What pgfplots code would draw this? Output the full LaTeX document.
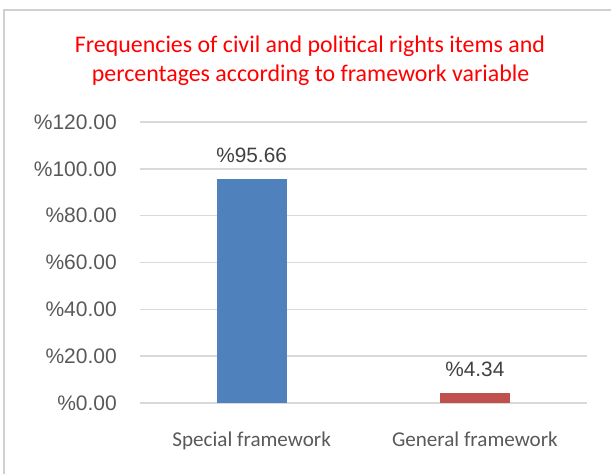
\documentclass[border=0pt]{standalone}
\usepackage{pgfplots}
\pgfplotsset{compat=1.18}
\usepackage{fontspec}
\setmainfont{Liberation Sans}
\newfontfamily\calibri{Carlito}
\definecolor{blu}{HTML}{4F81BD}
\definecolor{rd}{HTML}{C0504D}
\definecolor{gridgray}{HTML}{D9D9D9}
\definecolor{bordergray}{HTML}{D0D0D0}
\definecolor{tickgray}{HTML}{595959}
\definecolor{lblgray}{HTML}{404040}
\begin{document}
\begin{tikzpicture}[x=1pt,y=1pt]
\path[use as bounding box] (0,0) rectangle (611,474);
\draw[color=bordergray, line width=1.5pt] (4,-5) -- (4,464) -- (620,464);
\node[anchor=base, inner sep=0pt, text=red, font=\calibri\fontsize{23.9}{28}\selectfont] at (310,421) {Frequencies of civil and political rights items and};
\node[anchor=base, inner sep=0pt, text=red, font=\calibri\fontsize{23.9}{28}\selectfont] at (310.5,392) {percentages according to framework variable};
\begin{axis}[
  at={(140pt,71pt)}, anchor=south west,
  scale only axis, width=446.5pt, height=281pt,
  xmin=-0.5, xmax=1.5, ymin=0, ymax=120,
  ytick={0,20,40,60,80,100,120},
  yticklabels={\%0.00,\%20.00,\%40.00,\%60.00,\%80.00,\%100.00,\%120.00},
  xtick={0,1},
  xticklabels={Special framework,General framework},
  axis line style={draw=none},
  major tick length=0pt,
  ymajorgrids,
  grid style={gridgray, line width=1.5pt},
  yticklabel style={font=\fontsize{21}{24}\selectfont, text=tickgray, anchor=east, inner sep=0pt, xshift=-23pt},
  xticklabel style={font=\calibri\fontsize{21.1}{24}\selectfont, text=tickgray, anchor=base, inner sep=0pt, yshift=-44pt},
  ybar, bar width=70pt,
  clip=false,
  every node near coord/.append style={font=\fontsize{20.8}{24}\selectfont, text=lblgray, anchor=base, inner sep=0pt, yshift=16pt},
]
\addplot[fill=blu, draw=none, bar shift=0pt, nodes near coords={\%95.66}] coordinates {(0,95.66)};
\addplot[fill=rd, draw=none, bar shift=0pt, nodes near coords={\%4.34}] coordinates {(1,4.34)};
\end{axis}
\end{tikzpicture}
\end{document}
